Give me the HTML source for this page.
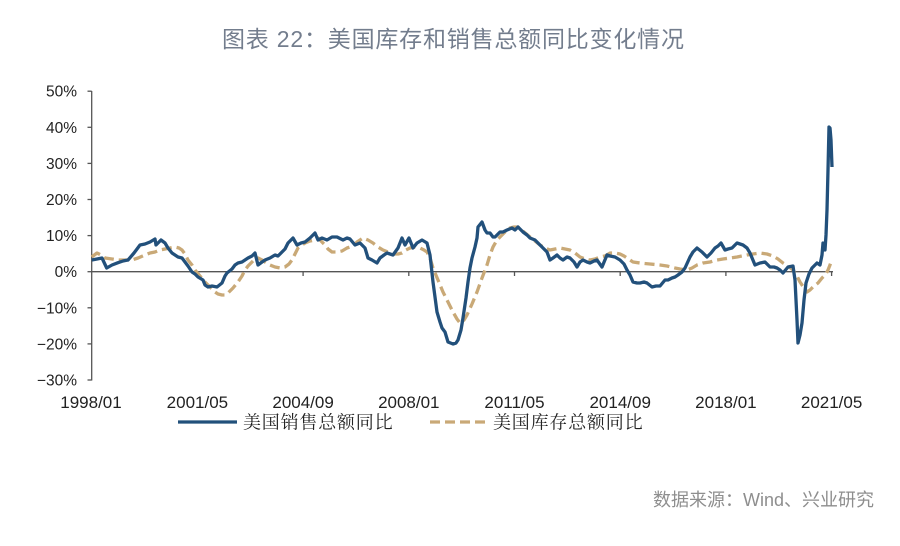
<!DOCTYPE html>
<html>
<head>
<meta charset="utf-8">
<style>
  html,body{margin:0;padding:0;background:#fff;}
  body{width:900px;height:546px;overflow:hidden;position:relative;}
  svg{position:absolute;left:0;top:0;}
</style>
</head>
<body>
<svg width="900" height="546" viewBox="0 0 900 546" xmlns="http://www.w3.org/2000/svg">
  <rect x="0" y="0" width="900" height="546" fill="#ffffff"/>
  <!-- Title -->
  <text x="222" y="47" font-family="'Liberation Sans','Noto Sans CJK SC',sans-serif" font-size="23" letter-spacing="0.8" fill="#737d8d">图表 22：美国库存和销售总额同比变化情况</text>

  <!-- Y axis -->
  <g stroke="#555" stroke-width="1.3" fill="none">
    <line x1="91.7" y1="91" x2="91.7" y2="380.5"/>
    <line x1="87.5" y1="91.2" x2="91.7" y2="91.2"/>
    <line x1="87.5" y1="127.3" x2="91.7" y2="127.3"/>
    <line x1="87.5" y1="163.4" x2="91.7" y2="163.4"/>
    <line x1="87.5" y1="199.5" x2="91.7" y2="199.5"/>
    <line x1="87.5" y1="235.6" x2="91.7" y2="235.6"/>
    <line x1="87.5" y1="271.7" x2="91.7" y2="271.7"/>
    <line x1="87.5" y1="307.8" x2="91.7" y2="307.8"/>
    <line x1="87.5" y1="343.9" x2="91.7" y2="343.9"/>
    <line x1="87.5" y1="380" x2="91.7" y2="380"/>
    <!-- zero line -->
    <line x1="91.7" y1="271.7" x2="833" y2="271.7"/>
    <!-- x ticks -->
    <line x1="197.4" y1="271.7" x2="197.4" y2="276"/>
    <line x1="303.1" y1="271.7" x2="303.1" y2="276"/>
    <line x1="408.8" y1="271.7" x2="408.8" y2="276"/>
    <line x1="514.5" y1="271.7" x2="514.5" y2="276"/>
    <line x1="620.2" y1="271.7" x2="620.2" y2="276"/>
    <line x1="725.9" y1="271.7" x2="725.9" y2="276"/>
    <line x1="831.6" y1="271.7" x2="831.6" y2="276"/>
  </g>

  <!-- Y labels -->
  <g font-family="'Liberation Sans',sans-serif" font-size="15.5" fill="#222" text-anchor="end">
    <text x="77" y="96.7">50%</text>
    <text x="77" y="132.8">40%</text>
    <text x="77" y="168.9">30%</text>
    <text x="77" y="205">20%</text>
    <text x="77" y="241.1">10%</text>
    <text x="77" y="277.2">0%</text>
    <text x="77" y="313.3">−10%</text>
    <text x="77" y="349.4">−20%</text>
    <text x="77" y="385.5">−30%</text>
  </g>

  <!-- X labels -->
  <g font-family="'Liberation Sans',sans-serif" font-size="17" fill="#222" text-anchor="middle">
    <text x="91" y="408">1998/01</text>
    <text x="197.4" y="408">2001/05</text>
    <text x="303.1" y="408">2004/09</text>
    <text x="408.8" y="408">2008/01</text>
    <text x="514.5" y="408">2011/05</text>
    <text x="620.2" y="408">2014/09</text>
    <text x="725.9" y="408">2018/01</text>
    <text x="831.6" y="408">2021/05</text>
  </g>

  <!-- Inventory series (dashed) -->
  <polyline fill="none" stroke="#c9a977" stroke-width="3.3" stroke-dasharray="10 5" stroke-linejoin="round"
    points="91.7,257 97,253 101,255 105,258 112,259 118,260 125,260 132,260 138,258 145,255 150,253 155,252 160,250 165,249 170,248 175,247 179,248 182,250 185,254 188,260 192,265 195,270 200,276 205,282 210,287 215,292 218,294 222,295 225,295 228,293 233,288 238,282 242,276 245,270 248,266 252,262 255,259 258,258 262,260 265,262 270,265 275,267 280,268 285,267 289,264 292,260 295,254 298,248 302,245 305,243 310,241 315,240 318,238 321,241 325,245 328,249 332,252 337,252 342,251 347,248 350,247 354,245 357,242 360,240 363,238 368,240 373,243 378,247 383,250 388,252 393,254 398,254 402,253 406,250 410,248 415,247 420,248 424,250 427,252 430,258 433,268 438,280 443,292 448,302 453,312 457,319 460,323 464,320 467,315 472,304 477,292 482,278 487,265 490,255 493,247 497,240 500,237 505,232 510,228 514,227 518,227 524,232 530,237 535,241 540,245 545,248 550,250 555,249 560,248 565,249 570,250 575,253 580,257 585,259 590,260 595,259 600,257 605,256 610,253 615,253 620,254 624,256 630,260 633,262 640,263 650,264 660,265 667,266 675,268 680,269 687,270 692,268 697,265 703,263 710,262 717,260 723,259 730,258 737,257 742,256 747,255 753,254 760,253 767,254 773,256 778,259 783,263 788,266 793,270 797,276 800,282 804,288 807,292 810,290 813,287 818,283 822,278 826,274 828,270 830,265 831,262"/>

  <!-- Sales series (solid) -->
  <polyline fill="none" stroke="#22507b" stroke-width="3.3" stroke-linejoin="round"
    points="91.7,260 97,259 102,258 106.7,268 112,265 118,262.7 123,261 128,260 134,253 140,245 145,244 150,242 155,239 156,245 161,240 165,243 168,248 172,253 178,257 182,258 185,262 188,266 192,272 195,274 198,277 203,280 205,285 208,287 212,286 217,287 222,283 225,276 227,273 232,269 235,265 238,263 242,262 245,260 248,258 252,256 255,253 258,265 262,262 265,260 270,258 275,255 278,256 282,252 285,249 288,243 293,238 297,245 301,243 305,242 310,238 315,233 318,240 322,238 327,240 332,237 337,237 343,240 347,238 350,239 355,245 360,243 365,248 368,258 372,260 377,263 380,258 384,255 387,253 393,255 398,248 402,238 405,245 409,238 413,248 417,243 422,240 427,243 430,255 433,282 437,312 440,322 442,328 445,332 448,342 453,344 456,343 458,340 461,330 463,318 466,298 468,282 470,268 472,258 475,247 477,238 478,227 482,222 485,230 487,233 490,233 493,237 495,237 500,232 503,232 507,230 512,228 515,230 518,227 523,232 527,235 530,238 535,240 538,243 543,248 547,252 550,260 553,258 557,255 560,258 563,260 567,257 570,258 574,262 577,267 580,262 583,260 587,262 590,263 594,261 597,260 602,267 607,255 610,256 615,257 620,260 624,264 627,270 630,275 633,282 637,283 640,283 644,282 647,283 652,287 656,286 660,286 665,280 668,280 672,278 675,277 678,275 682,272 685,268 690,257 693,252 697,248 702,252 707,257 711,253 715,248 718,246 721,243 725,250 728,249 732,248 737,243 740,244 743,245 747,248 750,253 755,265 760,263 765,262 770,267 774,267 777,268 780,270 783,273 788,267 793,266 795,280 797,320 798,343 800,335 802,323 804,300 806,283 809,274 812,268 817,263 820,265 822,255 823,243 825,250 826,235 827,210 828,170 829,127 830,128 831,140 832,167"/>

  <!-- Legend -->
  <line x1="178" y1="422" x2="237" y2="422" stroke="#22507b" stroke-width="3.3"/>
  <text x="243" y="428.5" font-family="'Noto Serif CJK SC','Liberation Serif',serif" font-size="18" letter-spacing="0.8" fill="#222">美国销售总额同比</text>
  <line x1="430" y1="422" x2="487" y2="422" stroke="#c9a977" stroke-width="3.3" stroke-dasharray="10 5"/>
  <text x="493" y="428.5" font-family="'Noto Serif CJK SC','Liberation Serif',serif" font-size="18" letter-spacing="0.8" fill="#222">美国库存总额同比</text>

  <!-- Source -->
  <text x="653" y="506" font-family="'Liberation Sans','Noto Sans CJK SC',sans-serif" font-size="18" fill="#8e8e8e">数据来源：Wind、兴业研究</text>
</svg>
</body>
</html>
